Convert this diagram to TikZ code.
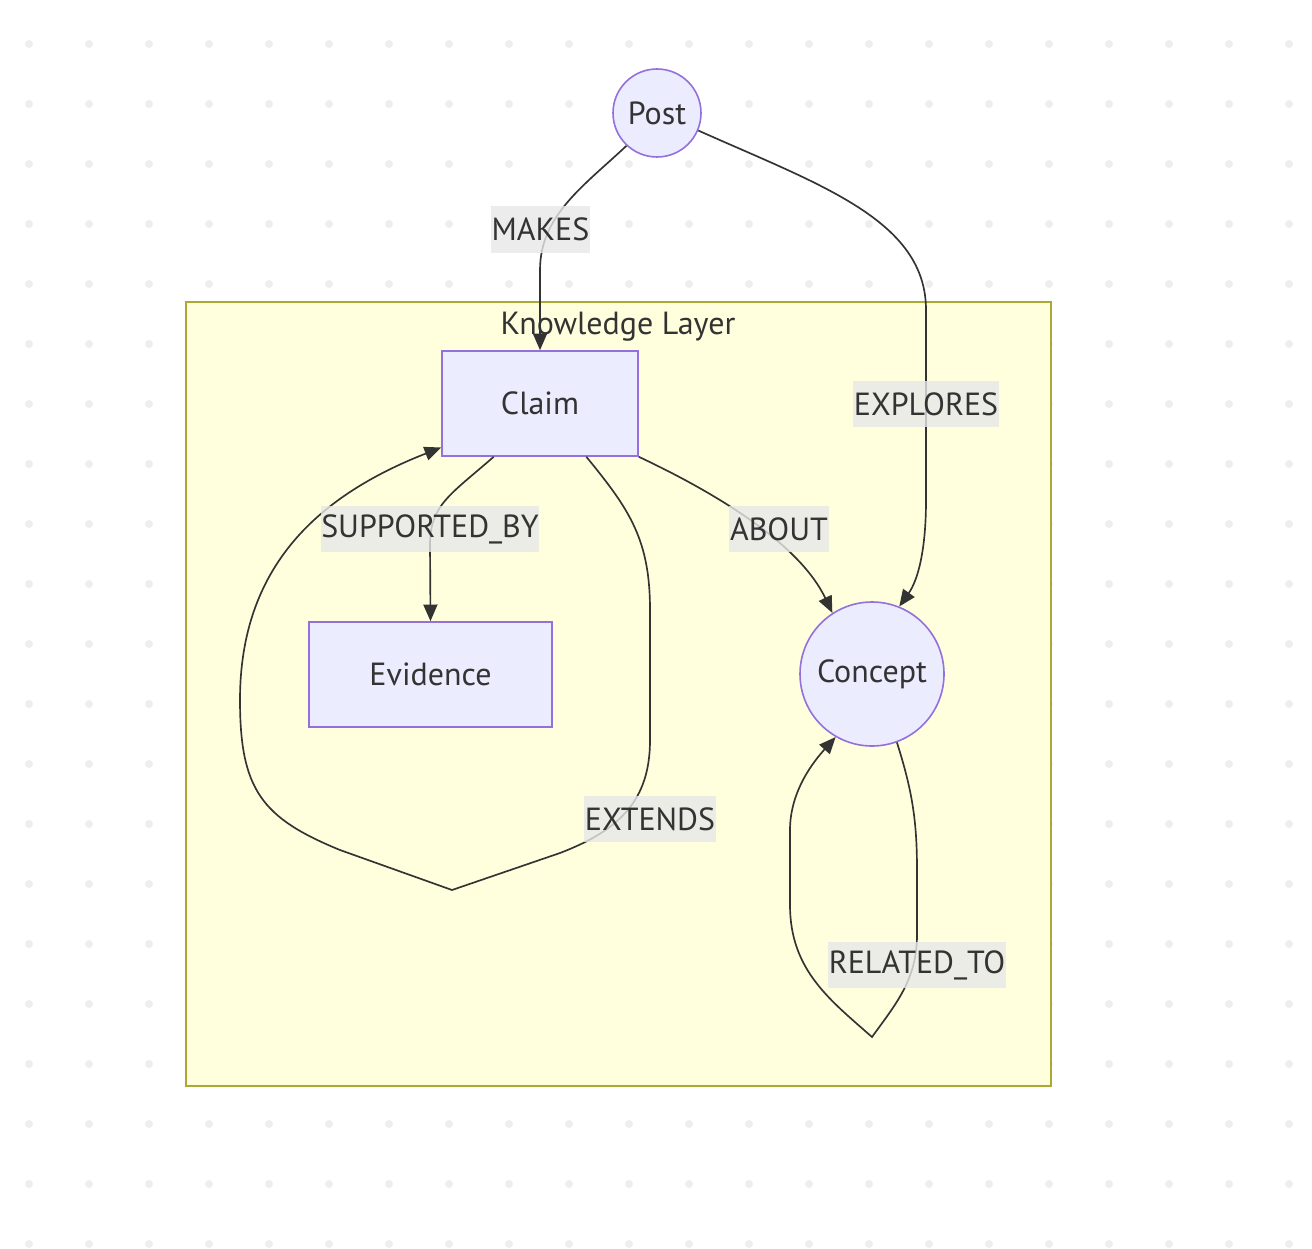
\documentclass[tikz,border=0pt]{standalone}
\usepackage{fontspec}
\setmainfont{PT Sans}
\usetikzlibrary{arrows.meta}
\definecolor{dotc}{HTML}{EEEEEE}
\definecolor{nodefill}{HTML}{ECECFF}
\definecolor{nodeline}{HTML}{9370DB}
\definecolor{clfill}{HTML}{FFFFDE}
\definecolor{clline}{HTML}{AAAA33}
\definecolor{txt}{HTML}{333333}
\definecolor{lblfill}{HTML}{E8E8E8}
\tikzset{
  lblfont/.style={font=\fontsize{24}{28}\selectfont},
  gnode/.style={draw=nodeline, fill=nodefill, line width=1.2pt, text=txt, lblfont, inner sep=0pt},
  boxnode/.style={gnode, rectangle, minimum width=#1, minimum height=78.75pt},
  circnode/.style={gnode, circle, minimum size=#1},
  edgelbl/.style={fill=lblfill, fill opacity=0.8, text opacity=1, text=txt, lblfont, inner xsep=0.5pt, minimum height=35pt, inner ysep=0pt},
  conn/.style={draw=txt, line width=1.25pt},
  arr/.style={conn, -{Triangle[length=12.5pt,width=10.5pt]}},
}
\begin{document}
\begin{tikzpicture}[x=0.75pt,y=-0.75pt]
\useasboundingbox (0,0) rectangle (1312,1248);
\fill[white] (0,0) rectangle (1312,1248);
\foreach \i in {0,...,21}{\foreach \j in {0,...,20}{\fill[dotc] ({29+60*\i},{44+60*\j}) circle (3pt);}}
% cluster
\draw[fill=clfill, draw=clline, line width=1.2pt] (186,302) rectangle (1051,1086);
\node[text=txt, lblfont] (kltitle) at (618,327) {Knowledge Layer};
% nodes
\node[circnode=66pt] (post) at (657,113) {Post};
\node[boxnode=147pt] (claim) at (540,403.5) {Claim};
\node[boxnode=182.25pt] (evidence) at (430.5,674.5) {Evidence};
\node[circnode=108pt] (concept) at (872,674) {Concept};
% waypoints
\coordinate (extb) at (452,890);
\coordinate (relb) at (872,1037);
% edges
\draw[arr] (post.227) .. controls (585,185) and (540,215) .. (540,270) -- (claim.north);
\draw[arr] (post.-23) .. controls (820,185) and (926,220) .. (926,310) -- (926,500) .. controls (926,550) and (918,580) .. (concept.68);
\draw[arr] (claim.229) .. controls (450,495) and (430,505) .. (430,545) -- (evidence.north);
\draw[arr] (claim.south east) .. controls (720,495) and (800,545) .. (concept.123);
\draw[arr] (claim.-49) .. controls (630,510) and (650,540) .. (650,610) -- (650,740) .. controls (650,800) and (620,830) .. (560,853) -- (extb) -- (340,850) .. controls (262,818) and (240,790) .. (240,700) .. controls (240,565) and (320,495) .. (claim.204);
\draw[arr] (concept.-70) .. controls (912,790) and (917,820) .. (917,870) -- (917,935) .. controls (917,980) and (895,1005) .. (relb) .. controls (830,1000) and (790,970) .. (790,905) -- (790,830) .. controls (790,790) and (815,760) .. (concept.240);
% labels
\node[edgelbl] (lmakes) at (540.5,229.5) {MAKES};
\node[edgelbl] (lexplores) at (926,404) {EXPLORES};
\node[edgelbl] (lsupp) at (430,529) {SUPPORTED\_BY};
\node[edgelbl] (labout) at (779,529) {ABOUT};
\node[edgelbl] (lext) at (650,819) {EXTENDS};
\node[edgelbl] (lrel) at (917,965) {RELATED\_TO};
\end{tikzpicture}
\end{document}
